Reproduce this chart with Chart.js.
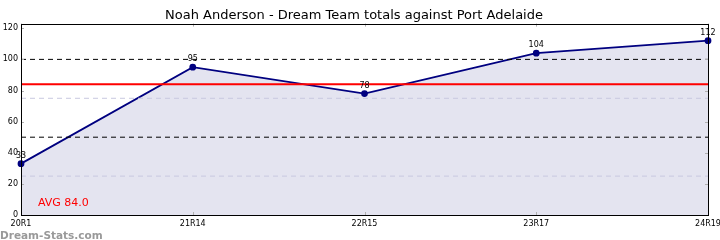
<!DOCTYPE html>
<html>
<head>
<meta charset="utf-8">
<script src="https://cdn.jsdelivr.net/npm/chart.js@4.4.1/dist/chart.umd.min.js"></script>
<style>
  html, body { margin: 0; padding: 0; background: #fff; }
  #wrap { width: 720px; height: 240px; position: relative; }
</style>
</head>
<body>
<div id="wrap"><canvas id="lineChart"></canvas></div>
<script>
var rounds = ["20R1", "21R14", "22R15", "23R17", "24R19"];
var scores = [33, 95, 78, 104, 112];
var avgScore = 84.0;
var yTicks = [0, 20, 40, 60, 80, 100, 120];
var darkRefs = [50, 100];
var lightRefs = [25, 75];

function flat(v) {
  return rounds.map(function() { return v; });
}

// little extras: box, inner tick marks, point labels, avg text, watermark
var extras = {
  id: "extras",
  afterDatasetsDraw: function(chart) {
    var ctx = chart.ctx;
    var a = chart.chartArea;
    var xs = chart.scales.x;
    var ys = chart.scales.y;
    ctx.save();

    ctx.strokeStyle = "#b0b0b0";
    ctx.lineWidth = 1;
    ctx.beginPath();
    for (var i = 0; i < rounds.length; i++) {
      var px = Math.round(xs.getPixelForValue(i)) + 0.5;
      ctx.moveTo(px, a.bottom); ctx.lineTo(px, a.bottom - 3);
      ctx.moveTo(px, a.top); ctx.lineTo(px, a.top + 3);
    }
    yTicks.forEach(function(v) {
      var py = Math.round(ys.getPixelForValue(v)) + 0.5;
      ctx.moveTo(a.left, py); ctx.lineTo(a.left + 3, py);
      ctx.moveTo(a.right, py); ctx.lineTo(a.right - 3, py);
    });
    ctx.stroke();

    ctx.strokeStyle = "#000";
    ctx.strokeRect(Math.round(a.left) + 0.5, Math.round(a.top) + 0.5,
      Math.round(a.right - a.left), Math.round(a.bottom - a.top));

    var meta = chart.getDatasetMeta(0);
    ctx.fillStyle = "#000";
    ctx.font = "8px 'DejaVu Sans'";
    ctx.textAlign = "center";
    ctx.textBaseline = "middle";
    meta.data.forEach(function(pt, i) {
      ctx.fillText(String(scores[i]), pt.x, pt.y - 8);
    });

    ctx.fillStyle = "#ff0000";
    ctx.font = "11px 'DejaVu Sans'";
    ctx.textAlign = "left";
    ctx.fillText("AVG " + avgScore.toFixed(1), a.left + 17, a.bottom - 12);

    ctx.fillStyle = "#999999";
    ctx.font = "bold 10.5px 'DejaVu Sans'";
    ctx.textBaseline = "alphabetic";
    ctx.fillText("Dream-Stats.com", 0, 239);
    ctx.restore();
  }
};

var datasets = [{
  data: scores,
  borderColor: "#000080",
  backgroundColor: "rgba(228,228,240,1)",
  fill: "origin",
  borderWidth: 1.8,
  pointRadius: 2.5,
  pointBackgroundColor: "#000080",
  pointBorderColor: "#000080",
  tension: 0,
  order: 5
}];
darkRefs.forEach(function(v) {
  datasets.push({ data: flat(v), borderColor: "#000", borderWidth: 1, borderDash: [5, 4], pointRadius: 0, fill: false, order: 2 });
});
lightRefs.forEach(function(v) {
  datasets.push({ data: flat(v), borderColor: "#c8c8e0", borderWidth: 1, borderDash: [5, 4], pointRadius: 0, fill: false, order: 3 });
});
datasets.push({ data: flat(avgScore), borderColor: "#ff0000", borderWidth: 2, pointRadius: 0, fill: false, order: 1 });

Chart.defaults.font.family = "'DejaVu Sans'";
var ctx = document.getElementById("lineChart").getContext("2d");
var lineChart = new Chart(ctx, {
  type: "line",
  data: { labels: rounds, datasets: datasets },
  options: {
    responsive: true,
    maintainAspectRatio: false,
    animation: false,
    layout: { padding: { right: 12, left: 0, top: 0, bottom: 0 } },
    plugins: {
      legend: { display: false },
      tooltip: { enabled: false },
      title: {
        display: true,
        text: "Noah Anderson - Dream Team totals against Port Adelaide",
        color: "#000",
        font: { size: 13, weight: "normal" },
        padding: { top: 8, bottom: 0 }
      }
    },
    scales: {
      x: {
        offset: false,
        grid: { display: false, drawTicks: false, tickLength: 0 },
        border: { display: false },
        ticks: { color: "#000", font: { size: 8 }, maxRotation: 0, autoSkip: false, padding: 4 },
        afterFit: function(s) { s.height = 25; s.paddingLeft = 0; s.paddingRight = 0; }
      },
      y: {
        min: 0,
        max: 123,
        grid: { display: false, drawTicks: false, tickLength: 0 },
        border: { display: false },
        ticks: { color: "#000", font: { size: 8 }, padding: 3 },
        afterBuildTicks: function(s) { s.ticks = yTicks.map(function(v) { return { value: v }; }); },
        afterFit: function(s) { s.width = 21; s.paddingTop = 0; s.paddingBottom = 0; }
      }
    }
  },
  plugins: [extras]
});
</script>
</body>
</html>
